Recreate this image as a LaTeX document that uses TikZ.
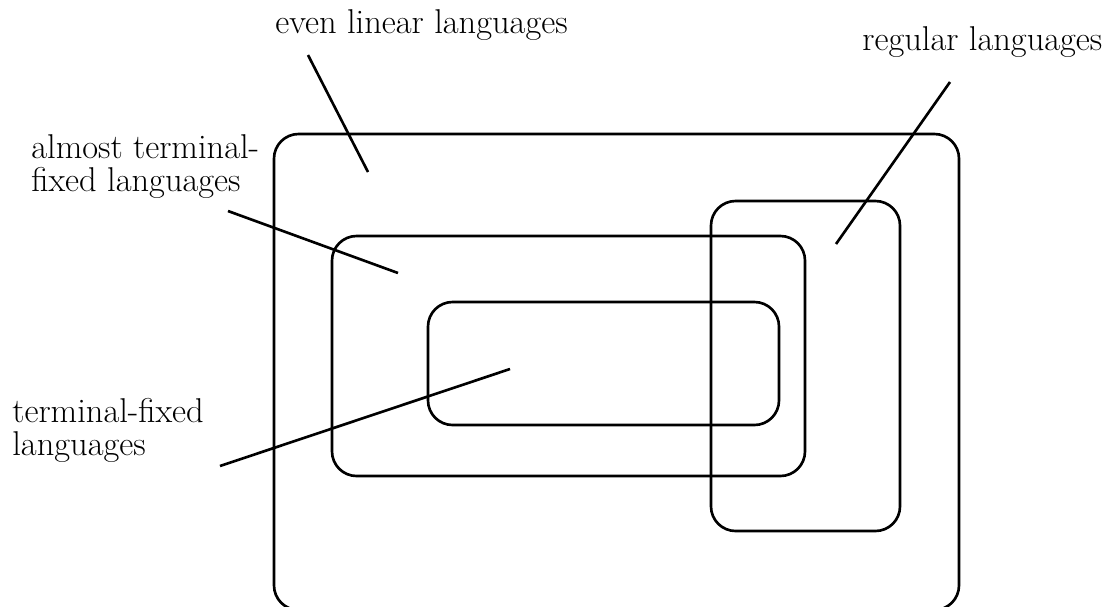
\documentclass[tikz,border=0pt]{standalone}
\begin{document}
\begin{tikzpicture}
	[x=0.02cm, y=-0.02cm,
	box/.style = {draw, line width=1.5pt, rounded corners=14pt},
	lbl/.style = {font=\fontsize{19.6}{18.7}\selectfont, align=left, inner sep=0pt},
	pointer/.style = {line width=1.5pt}]
\useasboundingbox (0,0) rectangle (1111,606);
% the four classes
\draw[box] (274,134) rectangle (959,610);
\draw[box] (332,236) rectangle (805,476);
\draw[box] (428,302) rectangle (779,425);
\draw[box] (711,201) rectangle (900,531);
% labels
\node[lbl, anchor=base west] (evenlin) at (275,33) {even linear languages};
\node[lbl, anchor=base west] (regular) at (862,50) {regular languages};
\node[lbl, anchor=north west] (almost) at (31,134) {almost terminal-\\fixed languages};
\node[lbl, anchor=north west] (termfix) at (12,398) {terminal-fixed\\languages};
% pointer ends
\coordinate (e1) at (308,55);  \coordinate (e2) at (368,172);
\coordinate (r1) at (950,82);  \coordinate (r2) at (836,244);
\coordinate (a1) at (228,211); \coordinate (a2) at (398,273);
\coordinate (t1) at (220,466); \coordinate (t2) at (510,369);
\draw[pointer] (e1) -- (e2);
\draw[pointer] (r1) -- (r2);
\draw[pointer] (a1) -- (a2);
\draw[pointer] (t1) -- (t2);
\end{tikzpicture}
\end{document}
